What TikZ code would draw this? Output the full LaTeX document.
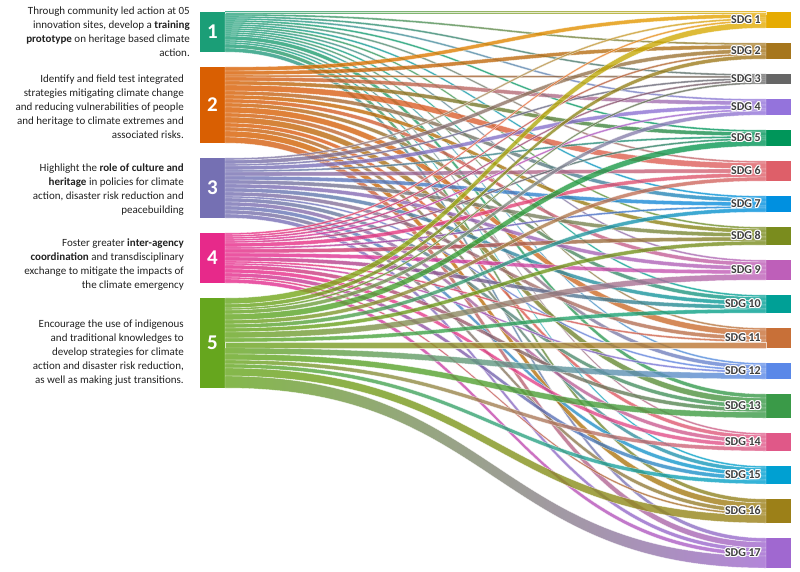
\documentclass[tikz,border=0pt]{standalone}
\usepackage{fontspec}
\setmainfont{Carlito}
\usepackage{contour}
\contourlength{1.1pt}
\contournumber{8}
\usetikzlibrary{positioning}
\usetikzlibrary{calc}

\definecolor{src1}{HTML}{1B9E77}
\definecolor{src2}{HTML}{D95F02}
\definecolor{src3}{HTML}{7570B3}
\definecolor{src4}{HTML}{E7298A}
\definecolor{src5}{HTML}{66A61E}
\definecolor{tgt1}{HTML}{E6AB02}
\definecolor{tgt2}{HTML}{A6761D}
\definecolor{tgt3}{HTML}{666666}
\definecolor{tgt4}{HTML}{9473DC}
\definecolor{tgt5}{HTML}{00965A}
\definecolor{tgt6}{HTML}{DE5F69}
\definecolor{tgt7}{HTML}{0090E0}
\definecolor{tgt8}{HTML}{7A8C1E}
\definecolor{tgt9}{HTML}{BE5FB9}
\definecolor{tgt10}{HTML}{00A096}
\definecolor{tgt11}{HTML}{C87038}
\definecolor{tgt12}{HTML}{5A88E8}
\definecolor{tgt13}{HTML}{3A9A48}
\definecolor{tgt14}{HTML}{E05888}
\definecolor{tgt15}{HTML}{00A0D2}
\definecolor{tgt16}{HTML}{9C8018}
\definecolor{tgt17}{HTML}{A068D0}

\tikzset{
  bar/.style      = { rectangle, inner sep=0pt, outer sep=0pt, minimum width=25pt },
  goalbar/.style  = { bar, text=white, font=\fontsize{21}{21}\selectfont\bfseries },
  sdgbar/.style   = { bar },
  goaltext/.style = { align=right, inner sep=0pt, text=black!87,
                      font=\fontsize{11}{14}\selectfont },
  sdglabel/.style = { inner sep=0pt, text=black!75,
                      font=\fontsize{12}{12}\selectfont\bfseries },
  flow/.style     = { draw=white, line width=0.4pt, fill opacity=0.8, draw opacity=0.7 }
}

% flow widths (units of 2pt), goal 1..5 by SDG 1..17
\def\flows{{1,1,1,1,1,1,1,1,1,1,1,1,2,1,1,2,2,
            2,2,1,2,2,3,2,2,2,2,3,2,3,2,2,3,3,
            1,2,1,2,1,2,2,2,2,2,2,1,2,2,2,2,2,
            1,1,1,1,1,2,1,2,2,2,1,1,2,2,2,1,2,
            3,2,1,2,3,2,2,2,3,2,3,3,3,2,2,4,6}}
\def\sdgsize{{8,8,5,8,8,10,8,9,10,9,10,8,12,9,9,12,15}}

\begin{document}
\begin{tikzpicture}[x=1pt,y=1pt,node distance=15pt]
  \useasboundingbox (0,0) rectangle (800,-572);

  \node (g1) [goalbar,fill=src1,minimum height=40pt,anchor=north west] at (200,-12) {1};
  \node (g2) [goalbar,fill=src2,minimum height=76pt,below=of g1] {2};
  \node (g3) [goalbar,fill=src3,minimum height=60pt,below=of g2] {3};
  \node (g4) [goalbar,fill=src4,minimum height=50pt,below=of g3] {4};
  \node (g5) [goalbar,fill=src5,minimum height=90pt,below=of g4] {5};

  \node (sdg1) [sdgbar,fill=tgt1,minimum height=16pt,anchor=north west] at (766,-12) {};
  \foreach \j [remember=\j as \k (initially 1)] in {2,...,17}{
    \pgfmathsetmacro\h{2*\sdgsize[\j-1]}
    \node (sdg\j) [sdgbar,fill=tgt\j,minimum height=\h pt,below=of sdg\k] {};
  }

  \node (t1) [goaltext,left=10pt of g1]
    {Through community led action at 05\\innovation sites, develop a \textbf{training}\\
     \textbf{prototype} on heritage based climate\\action.};
  \node (t2) [goaltext,left=16pt of g2,yshift=-2pt]
    {Identify and field test integrated\\strategies mitigating climate change\\
     and reducing vulnerabilities of people\\and heritage to climate extremes and\\associated risks.};
  \node (t3) [goaltext,left=16pt of g3,yshift=-2pt]
    {Highlight the \textbf{role of culture and}\\\textbf{heritage} in policies for climate\\
     action, disaster risk reduction and\\peacebuilding};
  \node (t4) [goaltext,left=16pt of g4,yshift=-7pt]
    {Foster greater \textbf{inter-agency}\\\textbf{coordination} and transdisciplinary\\
     exchange to mitigate the impacts of\\the climate emergency};
  \node (t5) [goaltext,left=16pt of g5,yshift=-10pt]
    {Encourage the use of indigenous\\and traditional knowledges to\\
     develop strategies for climate\\action and disaster risk reduction,\\as well as making just transitions.};

  % running offsets on each bar
  \foreach \i in {1,...,5}{\expandafter\xdef\csname gout\i\endcsname{0}}
  \foreach \j in {1,...,17}{\expandafter\xdef\csname sdgin\j\endcsname{0}}

  \foreach \i in {1,...,5}{
    \foreach \j in {1,...,17}{
      \pgfmathsetmacro\w{2*\flows[17*(\i-1)+\j-1]}
      \edef\sa{\csname gout\i\endcsname}
      \edef\ta{\csname sdgin\j\endcsname}
      \pgfmathsetmacro\sb{\sa+\w}
      \pgfmathsetmacro\tb{\ta+\w}
      \shadedraw [flow,left color=src\i,right color=tgt\j]
        ($(g\i.north east)+(0,-\sa)$) .. controls +(270,0) and +(-270,0) .. ($(sdg\j.north west)+(0,-\ta)$)
        -- ($(sdg\j.north west)+(0,-\tb)$) .. controls +(-270,0) and +(270,0) .. ($(g\i.north east)+(0,-\sb)$)
        -- cycle;
      \expandafter\xdef\csname gout\i\endcsname{\sb}
      \expandafter\xdef\csname sdgin\j\endcsname{\tb}
    }
  }

  \foreach \j in {1,...,17}
    \node (lab\j) [sdglabel,left=5pt of sdg\j] {\contour{white}{SDG \j}};
\end{tikzpicture}
\end{document}
